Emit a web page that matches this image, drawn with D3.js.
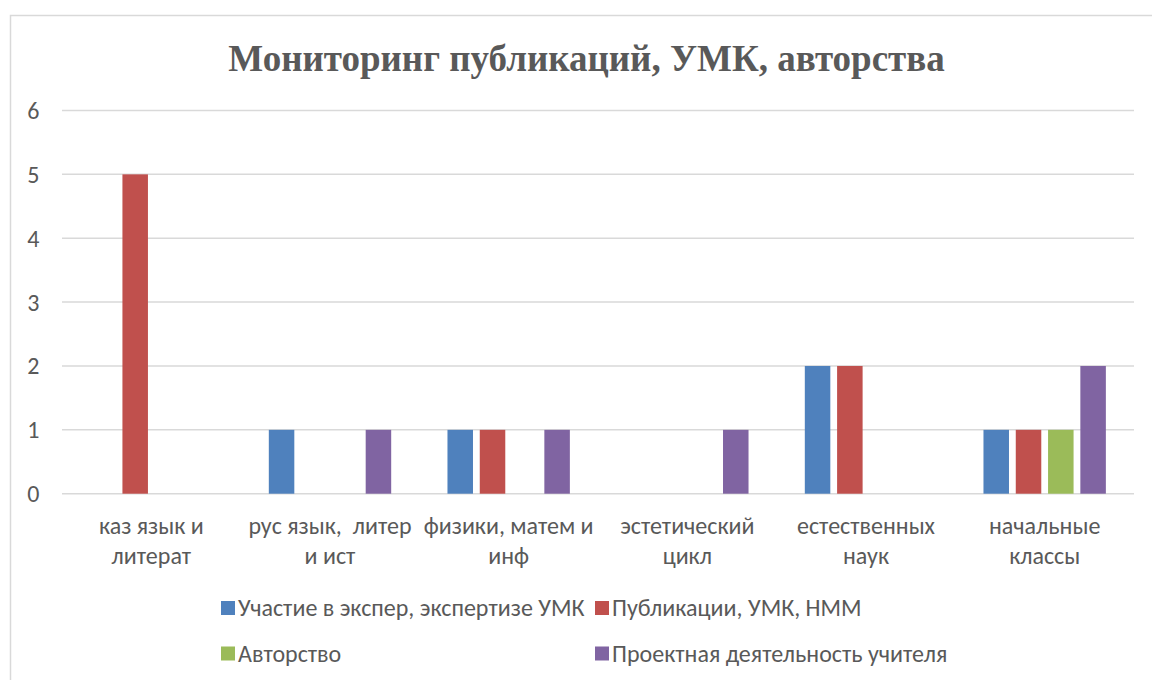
<!DOCTYPE html>
<html><head><meta charset="utf-8">
<script src="https://cdn.jsdelivr.net/npm/d3@7"></script>
<style>
body{margin:0;background:#fff;}
text{font-family:Carlito,Calibri,"Liberation Sans Narrow","Open Sans",sans-serif;}
</style></head>
<body><svg id="c" width="1152" height="680"></svg>
<script>
const title = "Мониторинг публикаций, УМК, авторства";
const categories = [["каз язык и","литерат"],["рус язык,  литер","и ист"],["физики, матем и","инф"],["эстетический","цикл"],["естественных","наук"],["начальные","классы"]];
const seriesNames = ["Участие в экспер, экспертизе УМК","Публикации, УМК, НММ","Авторство","Проектная деятельность учителя"];
const seriesColors = ["#4F81BD","#C0504D","#9BBB59","#8064A2"];
const expertise = [0,1,1,0,2,1];
const publications = [5,0,1,0,2,1];
const authorship = [0,0,0,0,0,1];
const projects = [0,1,1,1,0,2];
const yTicks = [0,1,2,3,4,5,6];

const seriesValues = [expertise, publications, authorship, projects];
const svg = d3.select("#c");
svg.append("rect").attr("x",10.5).attr("y",15.5).attr("width",1160).attr("height",700)
  .attr("fill","#fff").attr("stroke","#d9d9d9").attr("stroke-width",1.5);

const pLeft = 62, pRight = 1134, pTop = 110.5, pBottom = 493.7;
const y = d3.scaleLinear().domain([0,6]).range([pBottom, pTop]);
const catIdx = d3.range(categories.length);
const x0 = d3.scaleBand().domain(catIdx).range([pLeft,pRight]).paddingInner(0.315).paddingOuter(0.1575);
const x1 = d3.scaleBand().domain(d3.range(seriesNames.length)).range([0,x0.bandwidth()]).paddingInner(0.21).paddingOuter(0);

svg.append("g").selectAll("line").data(yTicks).join("line")
  .attr("x1",pLeft).attr("x2",pRight).attr("y1",d=>y(d)).attr("y2",d=>y(d))
  .attr("stroke","#d9d9d9").attr("stroke-width",1.5);

svg.append("g").selectAll("text").data(yTicks).join("text")
  .attr("x",39.5).attr("y",d=>y(d)).attr("dy","0.35em").attr("text-anchor","end")
  .attr("font-size",24).attr("fill","#595959").text(d=>d);

const g = svg.append("g");
seriesValues.forEach((vals,si)=>{
  g.append("g").selectAll("rect").data(vals.map((v,i)=>({v,i}))).join("rect")
    .attr("x",d=>x0(d.i)+x1(si)).attr("width",x1.bandwidth())
    .attr("y",d=>y(d.v)).attr("height",d=>y(0)-y(d.v))
    .attr("fill",seriesColors[si]);
});

const cl = svg.append("g").selectAll("text").data(categories).join("text")
  .attr("x",(d,i)=>x0(i)+x0.bandwidth()/2).attr("y",534)
  .attr("text-anchor","middle").attr("font-size",24).attr("fill","#595959")
  .attr("xml:space","preserve");
cl.each(function(d){
  const t = d3.select(this);
  d.forEach((line,k)=>t.append("tspan").attr("x",t.attr("x")).attr("dy",k===0?0:29.5).text(line));
});

svg.append("text").attr("x",586.5).attr("y",71).attr("text-anchor","middle")
  .style("font-family","'Liberation Serif','Times New Roman',serif").attr("font-weight","bold")
  .attr("font-size",37).attr("fill","#595959").text(title);

const legPos = [[221,608],[595,608],[221,653.5],[595,653.5]];
const lg = svg.append("g");
seriesNames.forEach((n,i)=>{
  lg.append("rect").attr("x",legPos[i][0]).attr("y",legPos[i][1]-7).attr("width",14).attr("height",14).attr("fill",seriesColors[i]);
  lg.append("text").attr("x",legPos[i][0]+17).attr("y",legPos[i][1]).attr("dy","0.35em")
    .attr("font-size",24).attr("fill","#595959").text(n);
});
</script></body></html>
